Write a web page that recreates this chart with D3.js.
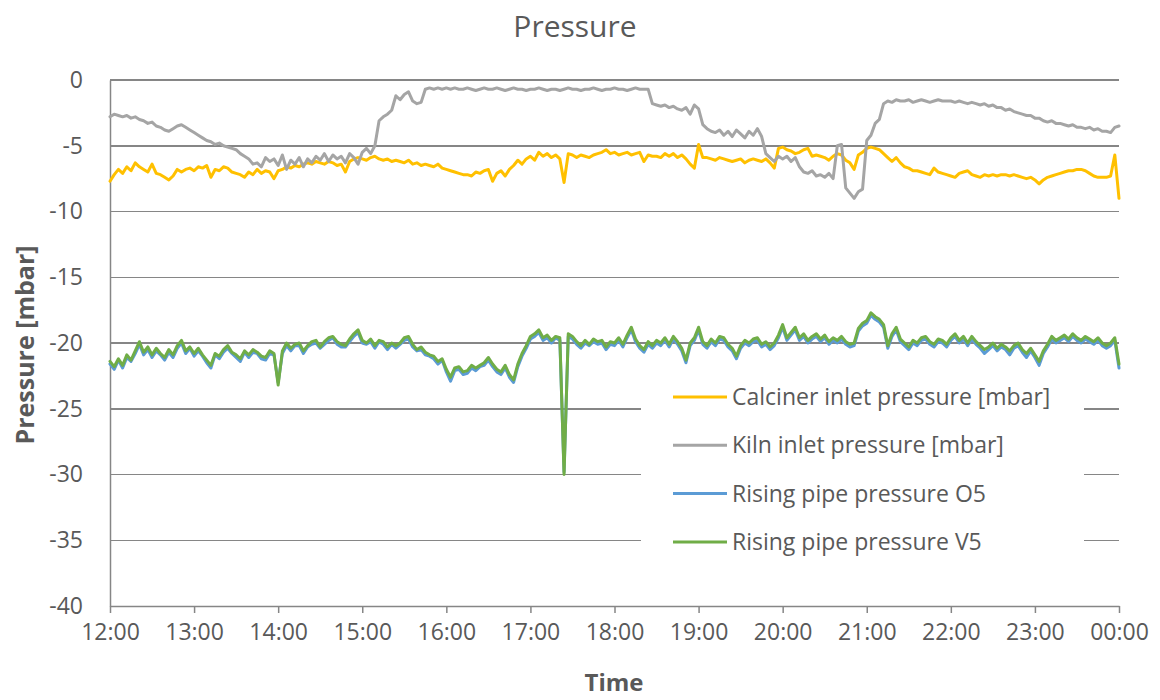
<!DOCTYPE html>
<html>
<head>
<meta charset="utf-8">
<script src="https://cdn.jsdelivr.net/npm/d3@7"></script>
<style>
  html, body { margin: 0; padding: 0; background: #ffffff; }
  svg { display: block; font-family: "Open Sans", sans-serif; }
</style>
</head>
<body>
<svg id="chart" width="1160" height="700"></svg>
<script>
// ---- Data (3-minute samples from 12:00 to 00:00) ----
const startTime = "2000-01-01T12:00:00";
const endTime = "2000-01-02T00:00:00";
const stepMinutes = 3;

const seriesNames = [
  "Calciner inlet pressure [mbar]",
  "Kiln inlet pressure [mbar]",
  "Rising pipe pressure O5",
  "Rising pipe pressure V5"
];

const calcinerInlet = [
  -7.7,-7.2,-6.8,-7.1,-6.6,-6.9,-6.3,-6.6,-6.8,-7.0,-6.4,-7.1,-7.2,-7.4,-7.6,-7.3,-6.8,-7.0,-6.8,-6.7,
  -6.9,-6.6,-6.7,-6.5,-7.4,-6.8,-6.9,-6.6,-6.7,-7.0,-7.1,-7.2,-7.4,-7.0,-7.2,-6.8,-7.1,-6.9,-7.0,-7.5,
  -6.9,-6.8,-6.6,-6.7,-6.5,-6.6,-6.4,-6.3,-6.4,-6.2,-6.3,-6.4,-6.2,-6.3,-6.5,-6.4,-7.0,-6.2,-6.0,-5.9,
  -6.0,-6.1,-5.9,-5.8,-6.0,-6.1,-6.0,-6.2,-6.1,-6.2,-6.3,-6.1,-6.4,-6.3,-6.5,-6.4,-6.5,-6.6,-6.4,-6.7,
  -6.8,-6.9,-7.0,-7.1,-7.2,-7.2,-7.3,-7.0,-7.1,-6.9,-6.8,-7.7,-7.1,-6.9,-7.3,-6.8,-6.5,-6.1,-6.4,-6.0,
  -5.8,-6.1,-5.5,-5.8,-5.6,-5.9,-5.7,-6.0,-7.8,-5.6,-5.7,-5.9,-5.7,-5.8,-5.9,-5.7,-5.6,-5.5,-5.3,-5.6,
  -5.5,-5.7,-5.6,-5.5,-5.7,-5.6,-5.5,-6.2,-5.7,-5.8,-5.8,-5.9,-5.6,-5.8,-5.6,-5.9,-5.7,-6.0,-6.4,-6.7,
  -4.9,-5.9,-5.9,-6.0,-6.1,-5.9,-6.0,-6.1,-6.2,-6.1,-6.0,-6.3,-6.1,-6.0,-6.1,-6.2,-6.0,-6.3,-6.7,-5.2,
  -5.1,-5.3,-5.4,-5.6,-5.5,-5.3,-5.2,-5.8,-5.7,-5.8,-5.9,-6.1,-5.8,-5.6,-5.7,-6.1,-6.3,-6.8,-5.7,-5.5,
  -5.2,-5.1,-5.2,-5.3,-5.6,-5.9,-6.2,-5.9,-6.3,-6.6,-6.7,-6.9,-6.9,-7.0,-7.1,-7.2,-6.7,-7.0,-7.1,-7.2,
  -7.3,-7.4,-7.1,-7.0,-6.9,-7.2,-7.3,-7.4,-7.2,-7.3,-7.2,-7.3,-7.2,-7.2,-7.3,-7.2,-7.3,-7.4,-7.5,-7.4,
  -7.6,-7.9,-7.6,-7.4,-7.3,-7.2,-7.1,-7.0,-6.9,-6.9,-6.8,-6.8,-6.9,-7.1,-7.3,-7.4,-7.4,-7.4,-7.3,-5.7,-9.0
];

const kilnInlet = [
  -2.8,-2.6,-2.7,-2.8,-2.7,-2.9,-2.8,-3.0,-3.1,-3.3,-3.2,-3.5,-3.6,-3.8,-3.9,-3.7,-3.5,-3.4,-3.6,-3.8,
  -4.0,-4.2,-4.4,-4.6,-4.7,-4.9,-4.8,-5.0,-5.1,-5.2,-5.3,-5.6,-5.8,-6.0,-6.4,-6.3,-6.6,-5.9,-6.2,-6.0,
  -6.5,-5.7,-6.8,-6.1,-6.4,-5.9,-6.6,-6.0,-6.3,-5.8,-6.1,-5.6,-6.2,-5.7,-6.0,-5.8,-6.3,-5.6,-5.9,-6.4,
  -5.5,-5.2,-5.6,-5.0,-3.1,-2.8,-2.6,-2.3,-1.2,-1.5,-1.1,-0.9,-1.6,-1.8,-1.7,-0.7,-0.6,-0.7,-0.6,-0.7,
  -0.6,-0.7,-0.6,-0.7,-0.7,-0.6,-0.7,-0.8,-0.7,-0.6,-0.7,-0.7,-0.6,-0.7,-0.8,-0.7,-0.6,-0.7,-0.7,-0.8,
  -0.7,-0.7,-0.6,-0.7,-0.8,-0.7,-0.7,-0.8,-0.7,-0.6,-0.7,-0.7,-0.8,-0.7,-0.7,-0.6,-0.7,-0.8,-0.7,-0.7,
  -0.6,-0.7,-0.7,-0.8,-0.7,-0.6,-0.7,-0.7,-0.7,-1.8,-1.9,-2.0,-1.9,-2.1,-2.0,-2.2,-2.3,-2.1,-2.6,-1.9,
  -2.2,-3.4,-3.7,-3.9,-4.0,-3.8,-4.2,-3.9,-4.3,-3.8,-4.1,-4.4,-3.9,-4.2,-3.7,-4.3,-5.6,-5.9,-6.2,-5.8,
  -6.0,-5.8,-6.2,-5.9,-6.6,-7.0,-7.1,-6.9,-7.3,-7.2,-7.4,-7.1,-7.5,-5.0,-4.9,-8.2,-8.6,-9.0,-8.5,-8.3,
  -4.6,-4.2,-3.3,-3.0,-1.8,-1.6,-1.7,-1.5,-1.6,-1.6,-1.5,-1.7,-1.6,-1.5,-1.6,-1.7,-1.6,-1.5,-1.6,-1.6,
  -1.6,-1.7,-1.6,-1.7,-1.8,-1.7,-1.8,-1.9,-1.8,-2.0,-1.9,-2.1,-2.1,-2.3,-2.2,-2.4,-2.5,-2.6,-2.7,-2.7,
  -2.9,-2.9,-3.1,-3.2,-3.1,-3.3,-3.3,-3.4,-3.5,-3.4,-3.6,-3.6,-3.7,-3.6,-3.8,-3.7,-3.9,-3.9,-4.0,-3.6,-3.5
];

const risingPipeO5 = [
  -21.6,-22.0,-21.3,-21.9,-21.1,-21.4,-20.8,-20.1,-20.9,-20.5,-21.1,-20.6,-20.9,-21.3,-20.7,-21.1,-20.4,-20.0,-20.8,-20.4,
  -21.0,-20.6,-21.0,-21.5,-21.9,-20.9,-21.2,-20.7,-20.4,-20.8,-21.1,-21.4,-20.7,-21.1,-20.7,-20.8,-21.2,-21.3,-20.8,-20.9,
  -23.0,-20.8,-20.2,-20.6,-20.2,-20.2,-20.8,-20.3,-20.1,-20.0,-20.4,-20.1,-19.8,-19.6,-20.1,-20.3,-20.3,-19.9,-19.5,-19.2,
  -20.0,-20.1,-19.9,-20.4,-19.9,-20.1,-20.5,-20.1,-20.4,-20.1,-19.8,-19.7,-20.3,-20.6,-20.5,-20.9,-21.0,-21.2,-21.6,-21.3,
  -22.2,-22.9,-22.1,-22.0,-22.4,-22.3,-21.9,-22.1,-21.8,-21.7,-21.3,-21.8,-22.2,-22.4,-21.9,-22.6,-23.0,-21.8,-21.0,-20.4,
  -19.7,-19.5,-19.2,-19.8,-19.6,-20.0,-19.6,-19.8,-29.8,-19.5,-19.7,-20.1,-20.4,-20.0,-20.2,-19.9,-20.1,-20.0,-20.5,-20.1,
  -20.2,-19.8,-20.3,-19.6,-19.0,-19.9,-20.4,-20.7,-20.1,-20.4,-20.0,-20.2,-19.8,-20.3,-19.7,-20.1,-20.6,-21.5,-20.2,-19.8,
  -19.0,-20.1,-20.4,-19.9,-20.2,-19.7,-19.8,-20.3,-20.6,-21.2,-20.4,-20.0,-20.2,-19.9,-19.8,-20.3,-20.1,-20.5,-20.2,-19.6,
  -18.8,-19.8,-19.4,-19.0,-19.8,-19.5,-20.0,-19.7,-19.5,-19.9,-19.6,-20.1,-19.8,-20.0,-19.7,-20.1,-20.3,-20.2,-19.1,-18.7,
  -18.5,-17.9,-18.2,-18.4,-18.8,-20.4,-19.5,-19.0,-19.9,-20.2,-20.5,-20.0,-20.2,-19.8,-19.7,-20.1,-20.3,-19.9,-20.0,-20.3,
  -19.8,-19.5,-20.0,-19.7,-20.2,-19.7,-20.1,-20.4,-20.8,-20.5,-20.2,-20.6,-20.3,-20.5,-20.9,-20.4,-20.2,-20.7,-21.1,-20.6,
  -21.1,-21.7,-20.8,-20.3,-19.7,-20.0,-19.8,-19.6,-19.9,-19.5,-19.8,-20.0,-19.7,-19.9,-20.1,-19.8,-20.2,-20.4,-20.2,-19.8,-21.9
];

const risingPipeV5 = [
  -21.4,-21.8,-21.2,-21.7,-20.9,-21.3,-20.6,-19.9,-20.7,-20.3,-20.9,-20.4,-20.8,-21.1,-20.5,-20.9,-20.2,-19.8,-20.6,-20.3,
  -20.8,-20.4,-20.9,-21.3,-21.7,-20.8,-21.0,-20.5,-20.2,-20.7,-20.9,-21.2,-20.6,-20.9,-20.5,-20.7,-21.0,-21.1,-20.6,-20.8,
  -23.2,-20.6,-20.0,-20.4,-20.1,-20.0,-20.6,-20.2,-19.9,-19.8,-20.3,-19.9,-19.6,-19.5,-19.9,-20.1,-20.2,-19.7,-19.3,-19.0,
  -19.8,-20.0,-19.7,-20.2,-19.8,-19.9,-20.3,-20.0,-20.2,-20.0,-19.6,-19.5,-20.1,-20.5,-20.3,-20.7,-20.9,-21.0,-21.4,-21.2,
  -22.0,-22.6,-21.9,-21.8,-22.2,-22.1,-21.7,-21.9,-21.7,-21.5,-21.1,-21.6,-22.0,-22.2,-21.7,-22.4,-22.8,-21.6,-20.8,-20.2,
  -19.5,-19.3,-19.0,-19.6,-19.4,-19.8,-19.5,-19.6,-30.0,-19.3,-19.5,-19.9,-20.2,-19.8,-20.1,-19.7,-19.9,-19.8,-20.3,-19.9,
  -20.0,-19.6,-20.1,-19.4,-18.8,-19.7,-20.2,-20.5,-19.9,-20.2,-19.8,-20.0,-19.6,-20.1,-19.5,-19.9,-20.4,-21.3,-20.0,-19.6,
  -18.8,-19.9,-20.2,-19.7,-20.0,-19.5,-19.6,-20.1,-20.4,-21.0,-20.2,-19.8,-20.0,-19.7,-19.6,-20.1,-19.9,-20.3,-20.0,-19.4,
  -18.6,-19.6,-19.2,-18.8,-19.6,-19.3,-19.8,-19.5,-19.3,-19.7,-19.4,-19.9,-19.6,-19.8,-19.5,-19.9,-20.1,-20.0,-18.9,-18.5,
  -18.3,-17.7,-18.0,-18.2,-18.6,-20.2,-19.3,-18.8,-19.7,-20.0,-20.3,-19.8,-20.0,-19.6,-19.5,-19.9,-20.1,-19.7,-19.8,-20.1,
  -19.6,-19.3,-19.8,-19.5,-20.0,-19.5,-19.9,-20.2,-20.5,-20.3,-20.0,-20.4,-20.1,-20.3,-20.6,-20.2,-20.0,-20.5,-20.8,-20.4,
  -20.9,-21.4,-20.6,-20.1,-19.5,-19.8,-19.6,-19.4,-19.7,-19.3,-19.6,-19.8,-19.5,-19.7,-19.9,-19.6,-20.0,-20.2,-20.0,-19.6,-21.6
];

const yTicks = [0, -5, -10, -15, -20, -25, -30, -35, -40];
const seriesColors = ["#FFC000", "#A5A5A5", "#5B9BD5", "#70AD47"];

// ---- Layout ----
const svg = d3.select("#chart");
const margin = { left: 110, right: 1119, top: 80, bottom: 606 };
const textColor = "#595959";
const gridColor = "#868686";

const t0 = new Date(startTime);
const t1 = new Date(endTime);
const times = calcinerInlet.map((_, i) => new Date(t0.getTime() + i * stepMinutes * 60000));

const x = d3.scaleTime().domain([t0, t1]).range([margin.left, margin.right]);
const y = d3.scaleLinear().domain([-40, 0]).range([margin.bottom, margin.top]);

// Title
svg.append("text")
  .attr("x", 575).attr("y", 37)
  .attr("text-anchor", "middle")
  .attr("font-size", 30)
  .attr("fill", textColor)
  .text("Pressure");

// Gridlines
svg.append("g")
  .selectAll("line")
  .data(yTicks.filter(d => d !== -40))
  .join("line")
  .attr("x1", margin.left).attr("x2", margin.right)
  .attr("y1", d => y(d)).attr("y2", d => y(d))
  .attr("stroke", gridColor).attr("stroke-width", 1.5)
  .attr("shape-rendering", "crispEdges");

// Y axis
const yAxis = svg.append("g")
  .attr("transform", `translate(${margin.left},0)`)
  .call(d3.axisLeft(y).tickValues(yTicks).tickSize(0).tickPadding(27).tickFormat(d => String(d)));
yAxis.select(".domain").attr("stroke", gridColor).attr("stroke-width", 1.5);
yAxis.selectAll("text")
  .attr("font-size", 23).attr("fill", textColor)
  .attr("font-family", "Open Sans, sans-serif");

// X axis
const xAxis = svg.append("g")
  .attr("transform", `translate(0,${margin.bottom})`)
  .call(d3.axisBottom(x).ticks(d3.timeHour.every(1)).tickSize(7).tickSizeOuter(0).tickPadding(11)
    .tickFormat(d3.timeFormat("%H:%M")));
xAxis.select(".domain").attr("stroke", gridColor).attr("stroke-width", 1.5);
xAxis.selectAll(".tick line").attr("stroke", gridColor).attr("stroke-width", 1.5);
xAxis.selectAll("text")
  .attr("font-size", 23).attr("fill", textColor)
  .attr("font-family", "Open Sans, sans-serif");

// Axis titles
svg.append("text")
  .attr("transform", "translate(34,345) rotate(-90)")
  .attr("text-anchor", "middle")
  .attr("font-size", 25).attr("font-weight", "bold")
  .attr("fill", textColor)
  .text("Pressure [mbar]");

svg.append("text")
  .attr("x", 614).attr("y", 691)
  .attr("text-anchor", "middle")
  .attr("font-size", 24).attr("font-weight", "bold")
  .attr("fill", textColor)
  .text("Time");

// Lines
const allSeries = [calcinerInlet, kilnInlet, risingPipeO5, risingPipeV5];
const line = d3.line()
  .x((d, i) => x(times[i]))
  .y(d => y(d));

svg.append("g")
  .selectAll("path")
  .data(allSeries)
  .join("path")
  .attr("d", d => line(d))
  .attr("fill", "none")
  .attr("stroke", (d, i) => seriesColors[i])
  .attr("stroke-width", 3)
  .attr("stroke-linejoin", "round")
  .attr("stroke-linecap", "round");

// Legend
const legend = svg.append("g");
legend.append("rect")
  .attr("x", 641).attr("y", 372)
  .attr("width", 443).attr("height", 198)
  .attr("fill", "#ffffff");

const legendItems = legend.selectAll("g.item")
  .data(seriesNames)
  .join("g")
  .attr("class", "item")
  .attr("transform", (d, i) => `translate(673,${397 + i * 48.3})`);

legendItems.append("line")
  .attr("x1", 0).attr("x2", 54)
  .attr("y1", 0).attr("y2", 0)
  .attr("stroke", (d, i) => seriesColors[i])
  .attr("stroke-width", 3);

legendItems.append("text")
  .attr("x", 59).attr("y", 0)
  .attr("dy", "0.35em")
  .attr("font-size", 23)
  .attr("fill", textColor)
  .text(d => d);
</script>
</body>
</html>
